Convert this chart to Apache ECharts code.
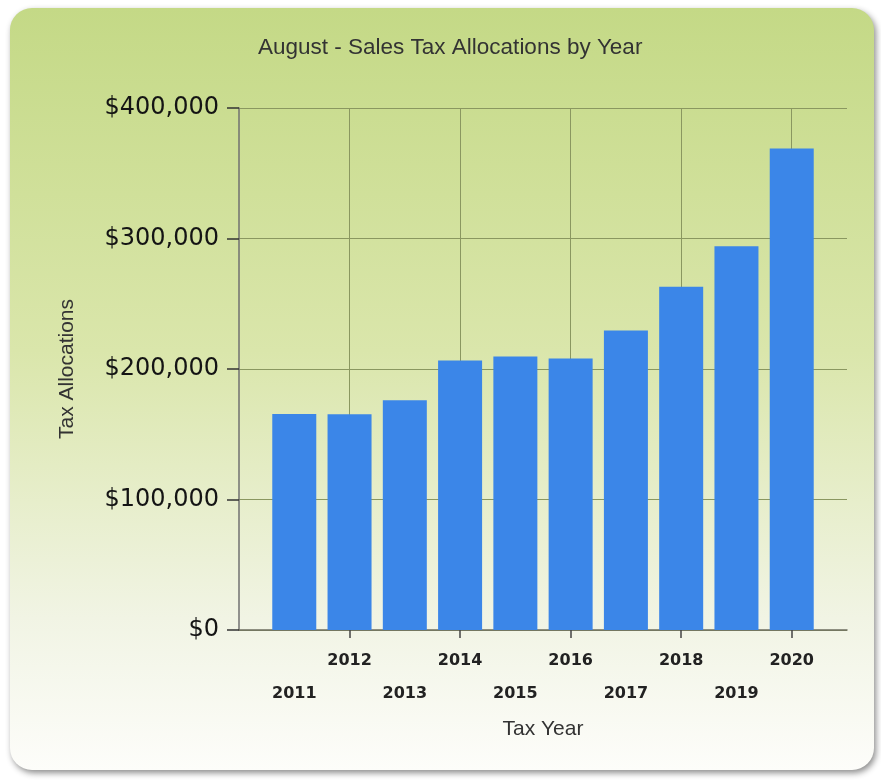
<!DOCTYPE html>
<html>
<head>
<meta charset="utf-8">
<script src="https://cdn.jsdelivr.net/npm/echarts@6/dist/echarts.min.js"></script>
<style>
html,body{margin:0;padding:0;background:#ffffff;}
#chart{width:881px;height:782px;}
</style>
</head>
<body>
<div id="chart"></div>
<script>
var titleText = 'August - Sales Tax Allocations by Year';
var xAxisName = 'Tax Year';
var yAxisName = 'Tax Allocations';
var years = [2011, 2012, 2013, 2014, 2015, 2016, 2017, 2018, 2019, 2020];
var allocations = [165500, 165300, 176000, 206500, 209500, 208000, 229500, 263000, 294000, 369000];
var tickYears = [2012, 2014, 2016, 2018, 2020];

var chart = echarts.init(document.getElementById('chart'));
var barData = years.map(function (y, i) { return [y, allocations[i]]; });

var option = {
  backgroundColor: '#ffffff',
  animation: false,
  graphic: {
    elements: [{
      type: 'rect',
      z: -10,
      silent: true,
      shape: { x: 10, y: 8, width: 864, height: 762, r: 22 },
      style: {
        fill: new echarts.graphic.LinearGradient(0, 0, 0, 1, [
          { offset: 0, color: '#c4d986' },
          { offset: 0.45, color: '#dae6ab' },
          { offset: 0.8, color: '#f1f4e4' },
          { offset: 1, color: '#fdfdfa' }
        ]),
        shadowBlur: 6,
        shadowOffsetX: 2,
        shadowOffsetY: 3,
        shadowColor: 'rgba(0,0,0,0.45)'
      }
    }]
  },
  title: {
    text: titleText,
    left: 258,
    top: 36,
    padding: 0,
    textStyle: { fontFamily: 'Liberation Sans, Arial, sans-serif', fontSize: 22.5, fontWeight: 'normal', color: '#333333' }
  },
  grid: { left: 239, right: 34, top: 108, bottom: 152, containLabel: false },
  xAxis: {
    type: 'value',
    min: 2010,
    max: 2021,
    interval: 1,
    name: xAxisName,
    nameLocation: 'middle',
    nameGap: 89,
    nameTextStyle: { fontFamily: 'Liberation Sans, Arial, sans-serif', fontSize: 21, color: '#333333' },
    axisLine: { show: true, lineStyle: { color: '#6e6e60', width: 1.5 } },
    axisTick: { show: true, length: 8, customValues: tickYears, lineStyle: { color: '#444444', width: 1.5 } },
    axisLabel: {
      customValues: years,
      margin: 14,
      fontFamily: 'DejaVu Sans, Verdana, sans-serif',
      fontWeight: 'bold',
      fontSize: 16,
      lineHeight: 33,
      color: '#222222',
      formatter: function (v) { return (v % 2 === 0) ? String(v) : '\n' + v; }
    },
    splitLine: { show: true, lineStyle: { color: '#8a9760', width: 1 } }
  },
  yAxis: {
    type: 'value',
    min: 0,
    max: 400000,
    interval: 100000,
    name: yAxisName,
    nameLocation: 'middle',
    nameGap: 161,
    nameRotate: 90,
    nameTextStyle: { fontFamily: 'Liberation Sans, Arial, sans-serif', fontSize: 21, color: '#333333' },
    axisLine: { show: true, lineStyle: { color: '#707070', width: 1.5 } },
    axisTick: { show: true, length: 12, lineStyle: { color: '#333333', width: 1.5 } },
    axisLabel: {
      margin: 20,
      fontFamily: 'DejaVu Sans, Verdana, sans-serif',
      fontSize: 24,
      color: '#141414',
      formatter: function (v) { return '$' + v.toLocaleString('en-US'); }
    },
    splitLine: { show: true, lineStyle: { color: '#8a9760', width: 1 } }
  },
  series: [{
    type: 'bar',
    data: barData,
    barWidth: 44,
    itemStyle: { color: '#3b86e8' },
    z: 3
  }]
};
chart.setOption(option);
</script>
</body>
</html>
